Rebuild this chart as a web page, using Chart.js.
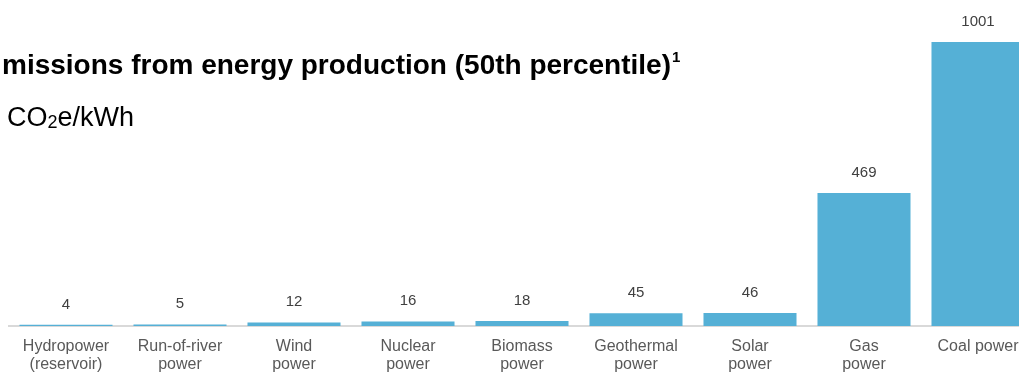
<!DOCTYPE html>
<html>
<head>
<meta charset="utf-8">
<script src="https://cdn.jsdelivr.net/npm/chart.js@4.4.1/dist/chart.umd.min.js"></script>
<style>
  html, body { margin: 0; padding: 0; background: #fff; overflow: hidden; }
  #wrap { position: relative; width: 1019px; height: 372px; overflow: hidden; }
  #c { position: absolute; left: 0; top: 0; }
  .title { position: absolute; left: 2px; top: 51px; font: bold 28px/1 "Liberation Sans", Arial, sans-serif; color: #000; white-space: nowrap; }
  .title sup { font-size: 15px; vertical-align: 0; position: relative; top: -12px; margin-left: 1px; }
  .sub { position: absolute; left: 7px; top: 104px; font: 27px/1 "Liberation Sans", Arial, sans-serif; color: #000; white-space: nowrap; }
  .sub sub { font-size: 18px; vertical-align: 0; position: relative; top: 2px; }
</style>
</head>
<body>
<div id="wrap">
  <canvas id="c" width="1040" height="372" style="width:1040px;height:372px"></canvas>
  <div class="title">missions from energy production (50th percentile)<sup>1</sup></div>
  <div class="sub">CO<sub>2</sub>e/kWh</div>
</div>
<script>
const categories = [
  ["Hydropower", "(reservoir)"],
  ["Run-of-river", "power"],
  ["Wind", "power"],
  ["Nuclear", "power"],
  ["Biomass", "power"],
  ["Geothermal", "power"],
  ["Solar", "power"],
  ["Gas", "power"],
  ["Coal power"]
];
const emissions = [4, 5, 12, 16, 18, 45, 46, 469, 1001];

const valueLabels = {
  id: 'valueLabels',
  afterDatasetsDraw(chart) {
    const ctx = chart.ctx;
    const meta = chart.getDatasetMeta(0);
    ctx.save();
    ctx.font = '15px "Liberation Sans", Arial, sans-serif';
    ctx.fillStyle = '#404040';
    ctx.textAlign = 'center';
    ctx.textBaseline = 'middle';
    meta.data.forEach((bar, i) => {
      ctx.fillText(String(emissions[i]), bar.x, bar.y - 20.5);
    });
    ctx.restore();
  }
};

new Chart(document.getElementById('c'), {
  type: 'bar',
  data: {
    labels: categories,
    datasets: [{
      data: emissions,
      backgroundColor: '#55B0D6',
      borderWidth: 0,
      barPercentage: 0.816,
      categoryPercentage: 1
    }]
  },
  options: {
    responsive: false,
    animation: false,
    layout: { padding: { left: 9, right: 5, top: 42, bottom: 0 } },
    plugins: { legend: { display: false }, tooltip: { enabled: false } },
    scales: {
      x: {
        afterFit(scale) { scale.height = 46; },
        grid: { display: false, drawTicks: false },
        border: { display: true, color: '#d9d9d9', width: 2 },
        ticks: {
          color: '#595959',
          font: { family: '"Liberation Sans", Arial, sans-serif', size: 16, lineHeight: 1.1 },
          padding: 12,
          maxRotation: 0,
          autoSkip: false
        }
      },
      y: {
        display: false,
        min: 0,
        max: 1001
      }
    }
  },
  plugins: [valueLabels]
});
</script>
</body>
</html>
